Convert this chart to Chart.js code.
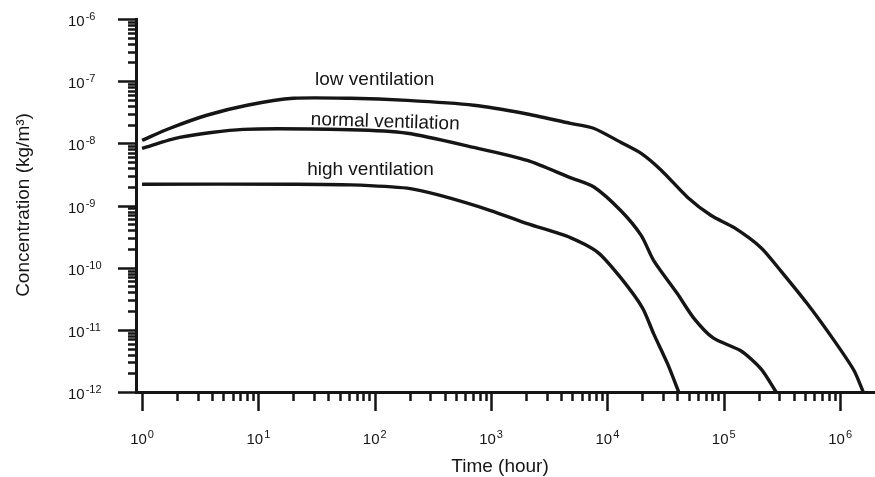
<!DOCTYPE html>
<html>
<head>
<meta charset="utf-8">
<script src="https://cdn.jsdelivr.net/npm/chart.js@4/dist/chart.umd.min.js"></script>
<style>
  body { margin: 0; background: #fff; }
  canvas { display: block; }
</style>
</head>
<body>
<canvas id="conc-chart" width="875" height="477"></canvas>
<script>
// time in hours, concentration in kg/m3
const lowHours = [1, 1.74, 3.6, 8, 20, 62, 190, 710, 1900, 4800, 7600, 13000, 19500, 29000, 49000, 78000, 123000, 209000, 309000, 525000, 890000, 1320000, 1580000];
const lowConc = [1.12e-8, 1.75e-8, 2.83e-8, 4.1e-8, 5.3e-8, 5.3e-8, 4.9e-8, 4.1e-8, 3.05e-8, 2.1e-8, 1.75e-8, 1.04e-8, 6.9e-9, 3.7e-9, 1.35e-9, 6.9e-10, 4.4e-10, 2.1e-10, 8.9e-11, 2.6e-11, 6.7e-12, 2.2e-12, 1e-12];

const normalHours = [1, 2.1, 7.4, 62, 190, 710, 2050, 4800, 7600, 13000, 19500, 25000, 40000, 55000, 81000, 140000, 209000, 282000];
const normalConc = [8.3e-9, 1.25e-8, 1.68e-8, 1.65e-8, 1.45e-8, 8.6e-9, 5.3e-9, 2.8e-9, 2.0e-9, 8.3e-10, 3.3e-10, 1.3e-10, 3.8e-11, 1.56e-11, 7.4e-12, 4.6e-12, 2.35e-12, 1e-12];

const highHours = [1, 21, 62, 190, 365, 990, 2050, 4800, 8300, 13000, 20000, 25000, 33000, 41000];
const highConc = [2.2e-9, 2.2e-9, 2.15e-9, 1.9e-9, 1.45e-9, 8.3e-10, 5.1e-10, 3.05e-10, 1.75e-10, 6.9e-11, 2.26e-11, 8.6e-12, 2.8e-12, 1e-12];

const curveNames = ['low ventilation', 'normal ventilation', 'high ventilation'];

// decade exponents for the tick labels
const xTickExps = [0, 1, 2, 3, 4, 5, 6];
const yTickExps = [-12, -11, -10, -9, -8, -7, -6];

const FONT = '"Liberation Sans", Arial, Helvetica, sans-serif';
const INK = '#151515';

const toPoints = (xs, ys) => xs.map((x, i) => ({ x: x, y: ys[i] }));

const lineStyle = {
  borderColor: INK,
  borderWidth: 3.4,
  pointRadius: 0,
  tension: 0.25,
  fill: false
};

// tick marks, decade labels, axis titles and curve names
const axisDecor = {
  id: 'axisDecor',
  afterDraw(chart) {
    const ctx = chart.ctx;
    const xs = chart.scales.x;
    const ys = chart.scales.y;
    const left = chart.chartArea.left;
    const bottom = chart.chartArea.bottom;
    ctx.save();
    ctx.strokeStyle = INK;
    ctx.fillStyle = INK;
    ctx.lineWidth = 2.5;

    // x ticks hang below the axis
    xTickExps.forEach((e) => {
      for (let m = 1; m <= 9; m++) {
        const v = m * Math.pow(10, e);
        if (v < xs.min || v > xs.max) continue;
        const px = Math.round(xs.getPixelForValue(v)) + 0.5;
        ctx.beginPath();
        ctx.moveTo(px, bottom);
        ctx.lineTo(px, bottom + (m === 1 ? 19 : 9));
        ctx.stroke();
      }
    });

    // y ticks stick out to the left
    yTickExps.forEach((e) => {
      for (let m = 1; m <= 9; m++) {
        const v = m * Math.pow(10, e);
        if (v < ys.min || v > ys.max * 1.0001) continue;
        const py = Math.round(ys.getPixelForValue(v)) + 0.5;
        ctx.beginPath();
        ctx.moveTo(left, py);
        ctx.lineTo(left - (m === 1 ? 18 : 8), py);
        ctx.stroke();
      }
    });

    const drawPower = (exp, x, y, align) => {
      const base = '10';
      const sup = String(exp);
      ctx.font = '15px ' + FONT;
      const bw = ctx.measureText(base).width;
      ctx.font = '11px ' + FONT;
      const sw = ctx.measureText(sup).width;
      const sx = align === 'center' ? x - (bw + sw + 1) / 2 : x;
      ctx.textAlign = 'left';
      ctx.textBaseline = 'middle';
      ctx.font = '15px ' + FONT;
      ctx.fillText(base, sx, y);
      ctx.font = '11px ' + FONT;
      ctx.fillText(sup, sx + bw + 1, y - 5);
    };

    xTickExps.forEach((e) => {
      drawPower(e, xs.getPixelForValue(Math.pow(10, e)), 440, 'center');
    });
    yTickExps.forEach((e) => {
      drawPower(e, 68, ys.getPixelForValue(Math.pow(10, e)) + 3, 'left');
    });

    // axis titles
    ctx.font = '19px ' + FONT;
    ctx.textAlign = 'center';
    ctx.textBaseline = 'middle';
    ctx.fillText('Time (hour)', 500, 467);
    ctx.save();
    ctx.translate(24, 205);
    ctx.rotate(-Math.PI / 2);
    ctx.fillText('Concentration (kg/m\u00B3)', 0, 0);
    ctx.restore();

    // curve names
    ctx.fillText(curveNames[0], xs.getPixelForValue(100), ys.getPixelForValue(1.05e-7));
    ctx.save();
    ctx.translate(xs.getPixelForValue(123), ys.getPixelForValue(2.2e-8));
    ctx.rotate(0.03);
    ctx.fillText(curveNames[1], 0, 0);
    ctx.restore();
    ctx.fillText(curveNames[2], xs.getPixelForValue(92), ys.getPixelForValue(3.8e-9));

    ctx.restore();
  }
};

new Chart(document.getElementById('conc-chart'), {
  type: 'line',
  data: {
    datasets: [
      { label: curveNames[0], data: toPoints(lowHours, lowConc), ...lineStyle },
      { label: curveNames[1], data: toPoints(normalHours, normalConc), ...lineStyle },
      { label: curveNames[2], data: toPoints(highHours, highConc), ...lineStyle }
    ]
  },
  options: {
    responsive: false,
    animation: false,
    devicePixelRatio: 1,
    layout: { padding: { top: 19, right: 0, left: 0, bottom: 0 } },
    plugins: {
      legend: { display: false },
      tooltip: { enabled: false }
    },
    scales: {
      x: {
        type: 'logarithmic',
        min: Math.pow(10, -0.052),
        max: Math.pow(10, 6.3),
        grid: { display: false },
        border: { display: true, color: INK, width: 3 },
        ticks: { display: false },
        afterFit: (s) => { s.height = 85; }
      },
      y: {
        type: 'logarithmic',
        min: 1e-12,
        max: 1e-6,
        grid: { display: false },
        border: { display: true, color: INK, width: 3 },
        ticks: { display: false },
        afterFit: (s) => { s.width = 136; }
      }
    }
  },
  plugins: [axisDecor]
});
</script>
</body>
</html>
